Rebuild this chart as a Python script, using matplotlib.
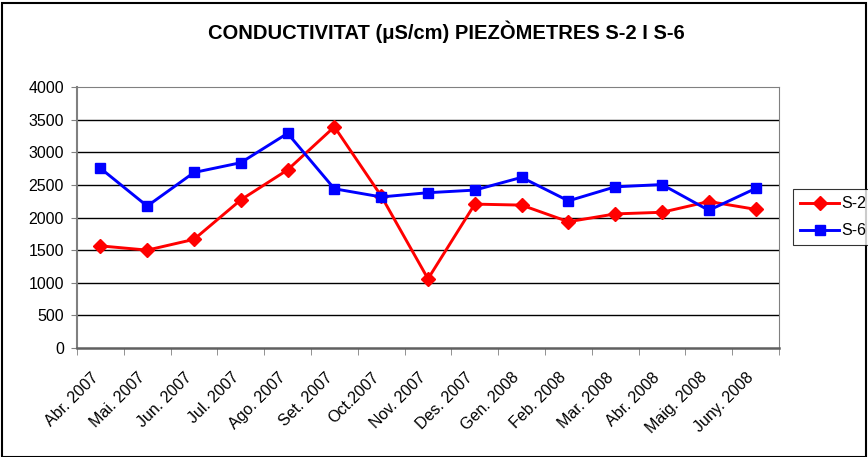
import matplotlib
matplotlib.use("Agg")
import matplotlib.pyplot as plt
from matplotlib.patches import Rectangle
from matplotlib.transforms import ScaledTranslation

plt.rcParams['font.family'] = ['Liberation Sans', 'DejaVu Sans']

months = ["Abr. 2007", "Mai. 2007", "Jun. 2007", "Jul. 2007", "Ago. 2007",
          "Set. 2007", "Oct.2007", "Nov. 2007", "Des. 2007", "Gen. 2008",
          "Feb. 2008", "Mar. 2008", "Abr. 2008", "Maig. 2008", "Juny. 2008"]
s2 = [1565, 1500, 1665, 2270, 2730, 3390, 2330, 1060, 2205, 2190,
      1935, 2055, 2080, 2245, 2125]
s6 = [2755, 2175, 2690, 2840, 3290, 2440, 2315, 2380, 2420, 2615,
      2255, 2470, 2505, 2110, 2445]
yticks = [0, 500, 1000, 1500, 2000, 2500, 3000, 3500, 4000]

fig = plt.figure(figsize=(8.68, 4.57), dpi=100)
ax = fig.add_axes([77/868, 1 - 348/457, (779 - 77)/868, (348 - 87)/457])

x = list(range(len(months)))
ax.plot(x, s2, color="#FF0000", lw=2.1, marker="D", ms=7, label="S-2", zorder=3)
ax.plot(x, s6, color="#0000FF", lw=2.1, marker="s", ms=7.5, label="S-6", zorder=3)

ax.set_xlim(-0.5, len(months) - 0.5)
ax.set_ylim(0, 4000)
ax.set_yticks(yticks)
ax.set_yticklabels([str(v) for v in yticks], fontsize=11.5)
ax.set_xticks(x)
ax.set_xticklabels(months, rotation=45, ha="right", va="center",
                   rotation_mode="anchor", fontsize=11.5)
ax.tick_params(axis="x", length=0, pad=0)
offset = ScaledTranslation(-4.5/100, -27/100, fig.dpi_scale_trans)
for lab in ax.get_xticklabels():
    lab.set_transform(lab.get_transform() + offset)
ax.set_xticks([i - 0.5 for i in range(len(months) + 1)], minor=True)
ax.tick_params(axis="x", which="minor", length=5, color="#808080", direction="out")
ax.tick_params(axis="y", length=4.5, color="#808080", direction="out", pad=5)

for v in yticks[1:-1]:
    ax.axhline(v, color="black", lw=1, zorder=1)
for side in ["top", "right", "left", "bottom"]:
    ax.spines[side].set_color("#808080")
ax.spines["left"].set_linewidth(1.5)
ax.spines["bottom"].set_linewidth(1.8)
ax.spines["bottom"].set_color("#606060")

fig.text(446/868, 1 - 32/457, "CONDUCTIVITAT (μS/cm) PIEZÒMETRES S-2 I S-6",
         ha="center", va="center", fontsize=14.5, fontweight="bold")

leg = fig.legend(loc="upper left", bbox_to_anchor=(793/868, 1 - 189/457),
                 borderaxespad=0, fontsize=11.5, frameon=True, fancybox=False,
                 borderpad=0.45, handlelength=2.45, labelspacing=0.75,
                 handletextpad=0.15)
leg.get_frame().set_edgecolor("black")
leg.get_frame().set_linewidth(0.8)

fig.patches.append(Rectangle((0.002, 0.0), 0.996, 0.994, transform=fig.transFigure,
                             fill=False, edgecolor="black", lw=1.5))

fig.savefig("out.png", dpi=100)
